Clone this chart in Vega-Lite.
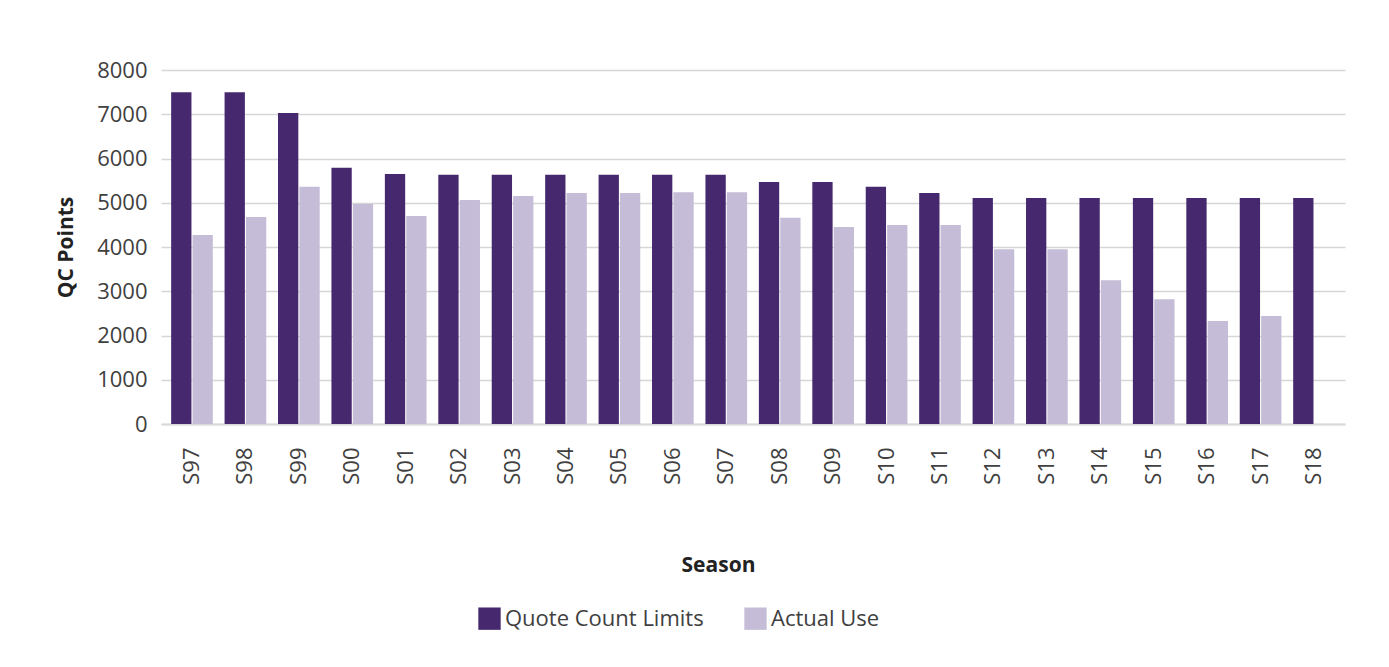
{
  "$schema": "https://vega.github.io/schema/vega-lite/v6.json",
  "autosize": {"type": "none"},
  "width": 1184,
  "height": 354,
  "padding": {"left": 161, "top": 70, "right": 44, "bottom": 243},
  "background": "white",
  "config": {
    "font": "Open Sans",
    "view": {"stroke": null},
    "axis": {"labelFont": "Open Sans", "titleFont": "Open Sans"}
  },
  "data": {
    "values": [
      {"season": "S97", "series": "Quote Count Limits", "value": 7500},
      {"season": "S97", "series": "Actual Use", "value": 4270},
      {"season": "S98", "series": "Quote Count Limits", "value": 7500},
      {"season": "S98", "series": "Actual Use", "value": 4680},
      {"season": "S99", "series": "Quote Count Limits", "value": 7030},
      {"season": "S99", "series": "Actual Use", "value": 5360},
      {"season": "S00", "series": "Quote Count Limits", "value": 5790},
      {"season": "S00", "series": "Actual Use", "value": 4970},
      {"season": "S01", "series": "Quote Count Limits", "value": 5650},
      {"season": "S01", "series": "Actual Use", "value": 4700},
      {"season": "S02", "series": "Quote Count Limits", "value": 5630},
      {"season": "S02", "series": "Actual Use", "value": 5060},
      {"season": "S03", "series": "Quote Count Limits", "value": 5630},
      {"season": "S03", "series": "Actual Use", "value": 5150},
      {"season": "S04", "series": "Quote Count Limits", "value": 5630},
      {"season": "S04", "series": "Actual Use", "value": 5220},
      {"season": "S05", "series": "Quote Count Limits", "value": 5630},
      {"season": "S05", "series": "Actual Use", "value": 5220},
      {"season": "S06", "series": "Quote Count Limits", "value": 5630},
      {"season": "S06", "series": "Actual Use", "value": 5240},
      {"season": "S07", "series": "Quote Count Limits", "value": 5630},
      {"season": "S07", "series": "Actual Use", "value": 5240},
      {"season": "S08", "series": "Quote Count Limits", "value": 5470},
      {"season": "S08", "series": "Actual Use", "value": 4660},
      {"season": "S09", "series": "Quote Count Limits", "value": 5470},
      {"season": "S09", "series": "Actual Use", "value": 4450},
      {"season": "S10", "series": "Quote Count Limits", "value": 5360},
      {"season": "S10", "series": "Actual Use", "value": 4500},
      {"season": "S11", "series": "Quote Count Limits", "value": 5220},
      {"season": "S11", "series": "Actual Use", "value": 4500},
      {"season": "S12", "series": "Quote Count Limits", "value": 5110},
      {"season": "S12", "series": "Actual Use", "value": 3950},
      {"season": "S13", "series": "Quote Count Limits", "value": 5110},
      {"season": "S13", "series": "Actual Use", "value": 3950},
      {"season": "S14", "series": "Quote Count Limits", "value": 5110},
      {"season": "S14", "series": "Actual Use", "value": 3250},
      {"season": "S15", "series": "Quote Count Limits", "value": 5110},
      {"season": "S15", "series": "Actual Use", "value": 2820},
      {"season": "S16", "series": "Quote Count Limits", "value": 5110},
      {"season": "S16", "series": "Actual Use", "value": 2330},
      {"season": "S17", "series": "Quote Count Limits", "value": 5110},
      {"season": "S17", "series": "Actual Use", "value": 2440},
      {"season": "S18", "series": "Quote Count Limits", "value": 5110}
    ]
  },
  "mark": {"type": "bar"},
  "encoding": {
    "x": {
      "field": "season",
      "type": "nominal",
      "sort": null,
      "scale": {"paddingInner": 0.22, "paddingOuter": 0.19},
      "axis": {
        "title": "Season",
        "titleFontSize": 21,
        "titleFontWeight": "bold",
        "titleColor": "#222222",
        "titleX": 557,
        "titleY": 130,
        "labelAngle": -90,
        "labelFontSize": 22,
        "labelColor": "#404040",
        "labelPadding": 23,
        "ticks": false,
        "domainColor": "#d9d9d9",
        "domainWidth": 2
      }
    },
    "xOffset": {
      "field": "series",
      "type": "nominal",
      "sort": ["Quote Count Limits", "Actual Use"],
      "scale": {"paddingInner": 0.05}
    },
    "y": {
      "field": "value",
      "type": "quantitative",
      "scale": {"domain": [0, 8000]},
      "axis": {
        "title": "QC Points",
        "titleFontSize": 21,
        "titleFontWeight": "bold",
        "titleColor": "#222222",
        "titlePadding": 20,
        "values": [0, 1000, 2000, 3000, 4000, 5000, 6000, 7000, 8000],
        "format": "d",
        "labelFontSize": 22,
        "labelColor": "#404040",
        "labelPadding": 14,
        "ticks": false,
        "domain": false,
        "gridColor": "#d6d6d6",
        "gridWidth": 1.5
      }
    },
    "color": {
      "field": "series",
      "type": "nominal",
      "scale": {
        "domain": ["Quote Count Limits", "Actual Use"],
        "range": ["#46286e", "#c5bdd7"]
      },
      "legend": {
        "title": null,
        "orient": "none",
        "direction": "horizontal",
        "legendX": 317,
        "legendY": 537,
        "symbolType": "square",
        "symbolSize": 500,
        "symbolStrokeWidth": 0,
        "labelFontSize": 22,
        "labelLimit": 0,
        "labelColor": "#404040",
        "labelOffset": 4,
        "columnPadding": 40
      }
    }
  }
}
